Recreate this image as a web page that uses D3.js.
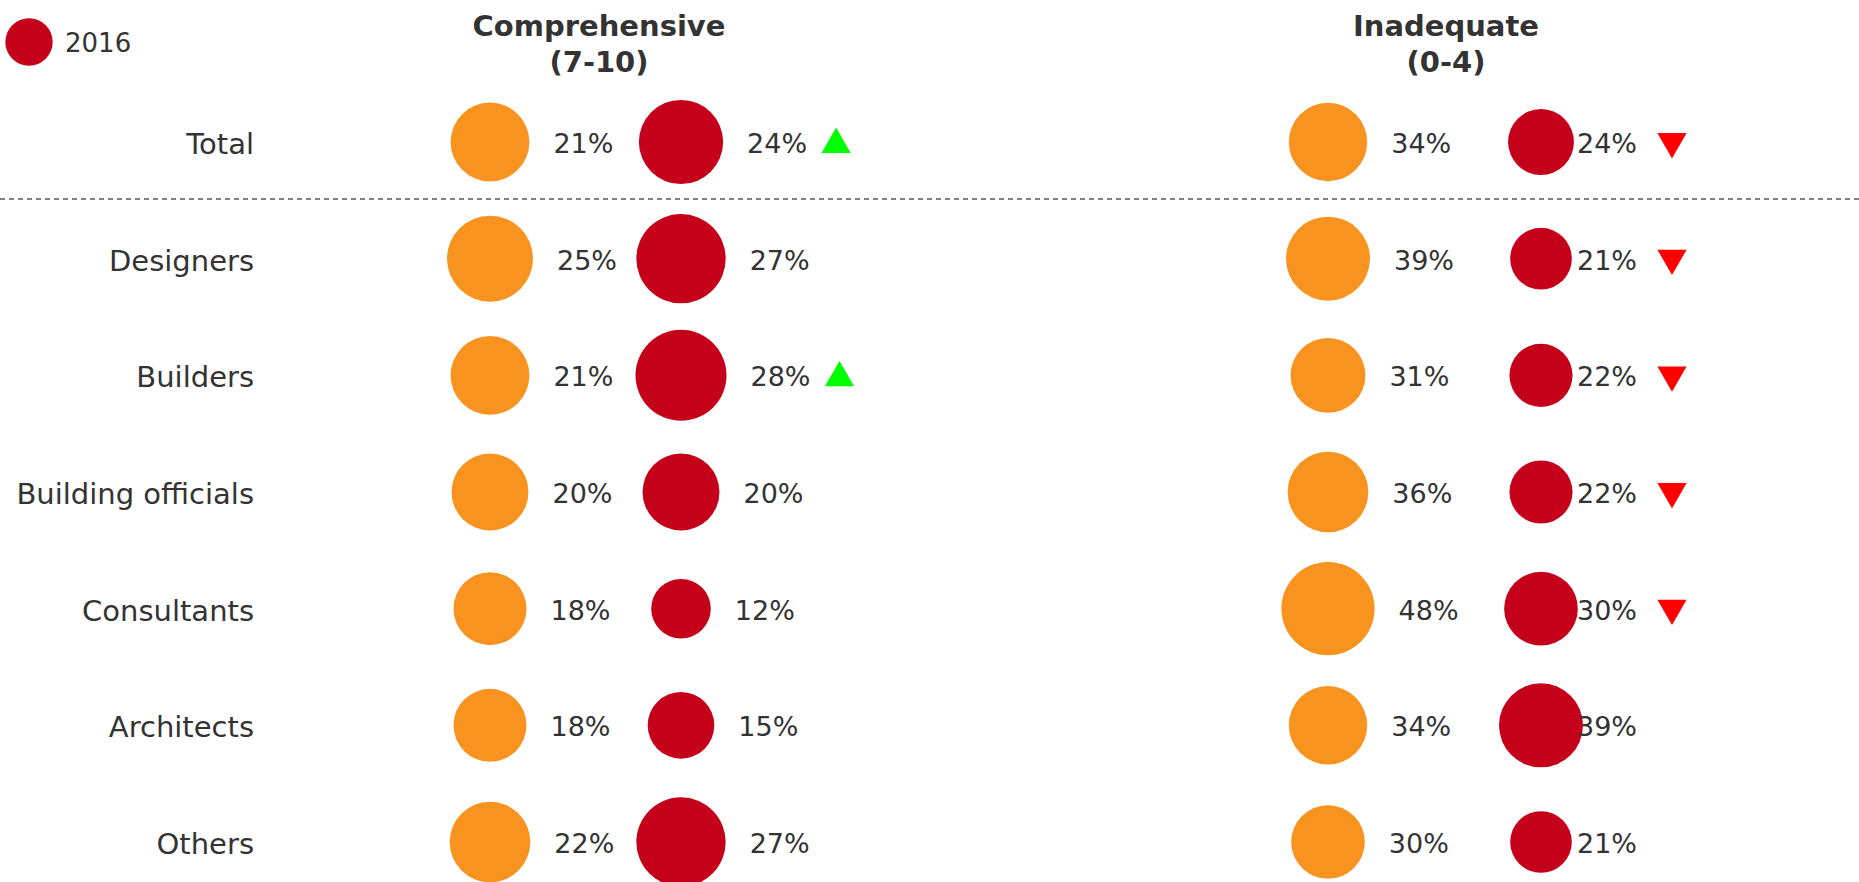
<!DOCTYPE html>
<html>
<head>
<meta charset="utf-8">
<script src="https://cdn.jsdelivr.net/npm/d3@7"></script>
<style>
  html, body { margin: 0; padding: 0; background: #fff; }
  text { font-family: Verdana, 'DejaVu Sans', sans-serif; fill: #333; }
</style>
</head>
<body>
<div id="chart"></div>
<script>
  // data
  var categories = ['Total', 'Designers', 'Builders', 'Building officials', 'Consultants', 'Architects', 'Others'];
  var comp2013 = [21, 25, 21, 20, 18, 18, 22];
  var comp2016 = [24, 27, 28, 20, 12, 15, 27];
  var compTrend = ['up', '', 'up', '', '', '', ''];
  var inad2013 = [34, 39, 31, 36, 48, 34, 30];
  var inad2016 = [24, 21, 22, 22, 30, 39, 21];
  var inadTrend = ['down', 'down', 'down', 'down', 'down', '', ''];
  var headers = [['Comprehensive', '(7-10)'], ['Inadequate', '(0-4)']];
  var legendLabel = '2016';

  var width = 1859;
  var height = 882;
  var orange = '#f7931e';
  var red = '#c4001a';

  var svg = d3.select('#chart')
    .append('svg')
    .attr('width', width)
    .attr('height', height);

  // row positions
  var y = d3.scalePoint()
    .domain(categories)
    .range([142, 842]);

  // column positions
  var x = d3.scaleOrdinal()
    .domain(['comp2013', 'comp2016', 'inad2013', 'inad2016'])
    .range([490, 681, 1328, 1541]);
  var headerX = d3.scaleOrdinal()
    .domain([0, 1])
    .range([599, 1446]);

  // bubble size, one scale per group
  var rComp = d3.scaleSqrt().domain([0, d3.max(comp2013.concat(comp2016))]).range([0, 45.5]);
  var rInad = d3.scaleSqrt().domain([0, d3.max(inad2013.concat(inad2016))]).range([0, 46.6]);

  // legend
  svg.append('circle')
    .attr('cx', 29)
    .attr('cy', 42)
    .attr('r', 23.7)
    .attr('fill', red);
  svg.append('text')
    .attr('x', 65)
    .attr('y', 51.5)
    .style('font-size', '26px')
    .text(legendLabel);

  // headers
  headers.forEach(function (lines, i) {
    var t = svg.append('text')
      .attr('text-anchor', 'middle')
      .style('font-size', '29px')
      .style('font-weight', 'bold');
    lines.forEach(function (l, j) {
      t.append('tspan')
        .attr('x', headerX(i))
        .attr('y', 36 + j * 36)
        .text(l);
    });
  });

  // separator under Total
  svg.append('line')
    .attr('x1', 0)
    .attr('x2', width)
    .attr('y1', 199)
    .attr('y2', 199)
    .attr('stroke', '#808080')
    .attr('stroke-width', 2)
    .attr('stroke-dasharray', '5,4');

  // row labels
  svg.selectAll('text.label')
    .data(categories)
    .enter()
    .append('text')
    .attr('class', 'label')
    .attr('x', 254)
    .attr('y', function (d) { return y(d) + 12; })
    .attr('text-anchor', 'end')
    .style('font-size', '29px')
    .text(function (d) { return d; });

  var series = [
    { key: 'comp2013', values: comp2013, color: orange, r: rComp, fixedText: false },
    { key: 'comp2016', values: comp2016, color: red, r: rComp, fixedText: false, trend: compTrend, trendGap: 89 },
    { key: 'inad2013', values: inad2013, color: orange, r: rInad, fixedText: false },
    { key: 'inad2016', values: inad2016, color: red, r: rInad, fixedText: true, trend: inadTrend, trendGap: 95 }
  ];

  var tri = d3.symbol().type(d3.symbolTriangle).size(370);

  series.forEach(function (s) {
    var g = svg.append('g').attr('class', s.key);
    var cx = x(s.key);
    var rows = categories.map(function (c, i) {
      var v = s.values[i];
      var rr = s.r(v);
      return {
        cat: c,
        v: v,
        r: rr,
        tx: s.fixedText ? cx + 36 : cx + rr + 24,
        trend: s.trend ? s.trend[i] : ''
      };
    });

    g.selectAll('circle')
      .data(rows)
      .enter()
      .append('circle')
      .attr('cx', cx)
      .attr('cy', function (d) { return y(d.cat); })
      .attr('r', function (d) { return d.r; })
      .attr('fill', s.color);

    g.selectAll('text')
      .data(rows)
      .enter()
      .append('text')
      .attr('x', function (d) { return d.tx; })
      .attr('y', function (d) { return y(d.cat) + 11; })
      .style('font-size', '27px')
      .text(function (d) { return d.v + '%'; });

    // significance arrows
    g.selectAll('path')
      .data(rows.filter(function (d) { return d.trend; }))
      .enter()
      .append('path')
      .attr('d', tri)
      .attr('fill', function (d) { return d.trend === 'up' ? '#00ff00' : '#ff0000'; })
      .attr('transform', function (d) {
        var ty = y(d.cat);
        if (d.trend === 'up') {
          return 'translate(' + (d.tx + s.trendGap) + ',' + (ty + 2.5) + ')';
        }
        return 'translate(' + (d.tx + s.trendGap) + ',' + (ty - 0.5) + ') rotate(180)';
      });
  });
</script>
</body>
</html>
